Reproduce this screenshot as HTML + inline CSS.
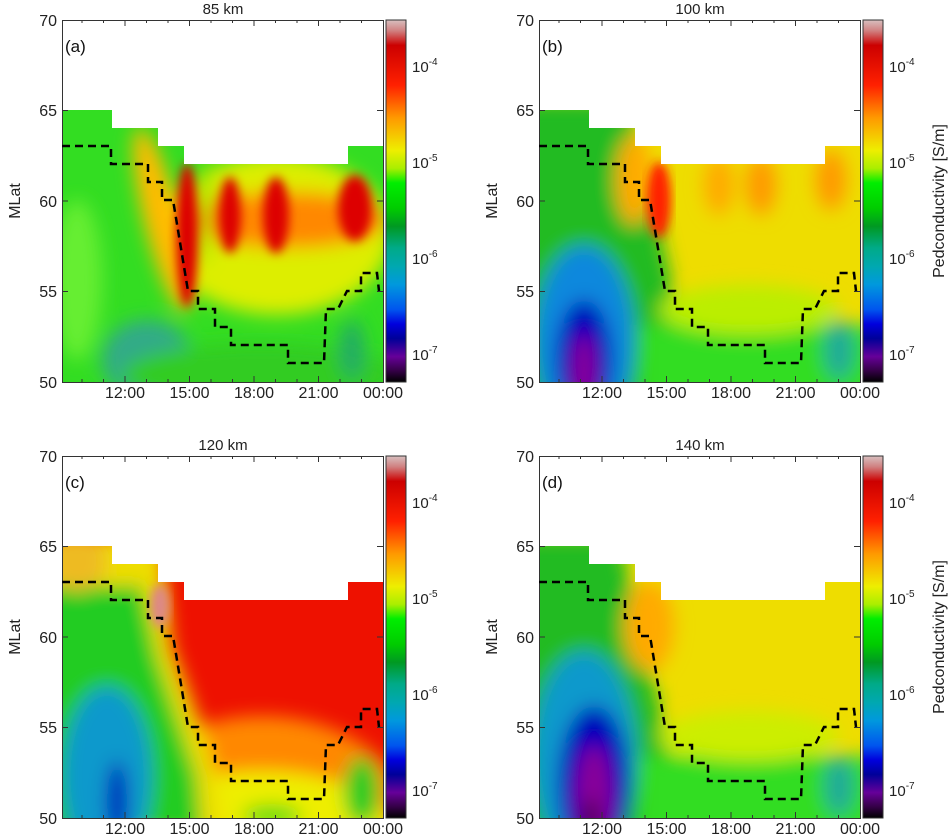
<!DOCTYPE html>
<html><head><meta charset="utf-8"><style>
html,body{margin:0;background:#fff;overflow:hidden;width:950px;height:838px}
svg{display:block;font-family:"Liberation Sans","DejaVu Sans",sans-serif}
</style></head><body>
<svg width="950" height="838" viewBox="0 0 950 838">
<defs>
<linearGradient id="cb" x1="0" y1="0" x2="0" y2="1">
<stop offset="0" stop-color="#d8c0c0"/><stop offset="0.03" stop-color="#d08080"/>
<stop offset="0.07" stop-color="#cc0000"/><stop offset="0.18" stop-color="#ff2000"/>
<stop offset="0.27" stop-color="#ff9900"/><stop offset="0.36" stop-color="#eeee00"/>
<stop offset="0.41" stop-color="#aaee00"/><stop offset="0.45" stop-color="#00ee00"/>
<stop offset="0.52" stop-color="#00cc00"/><stop offset="0.57" stop-color="#009922"/>
<stop offset="0.63" stop-color="#00aa88"/><stop offset="0.68" stop-color="#00a8b0"/>
<stop offset="0.73" stop-color="#0099dd"/><stop offset="0.8" stop-color="#0055ee"/>
<stop offset="0.84" stop-color="#0000dd"/><stop offset="0.88" stop-color="#000099"/>
<stop offset="0.93" stop-color="#660099"/><stop offset="0.97" stop-color="#330044"/>
<stop offset="1" stop-color="#000000"/>
</linearGradient>
<filter id="bl" x="-20%" y="-20%" width="140%" height="140%"><feGaussianBlur stdDeviation="9"/></filter>
<filter id="bs" x="-20%" y="-20%" width="140%" height="140%"><feGaussianBlur stdDeviation="5"/></filter>
<clipPath id="cov"><polygon points="0,362 0,90 50,90 50,108 96,108 96,126 122,126 122,144 286,144 286,126 321,126 321,362"/></clipPath>
<g id="frame">
<rect x="0.5" y="0.5" width="321" height="362" fill="none" stroke="#333" stroke-width="1"/>
<path d="M63,362v-6M127.5,362v-6M192,362v-6M256.5,362v-6M63,0v6M127.5,0v6M192,0v6M256.5,0v6M20,362v-3M41.5,362v-3M84.5,362v-3M106,362v-3M149,362v-3M170.5,362v-3M213.5,362v-3M235,362v-3M278,362v-3M299.5,362v-3M20,0v3M41.5,0v3M84.5,0v3M106,0v3M149,0v3M170.5,0v3M213.5,0v3M235,0v3M278,0v3M299.5,0v3M0,90.5h6M0,181h6M0,271.5h6M321,90.5h-6M321,181h-6M321,271.5h-6" stroke="#333" stroke-width="1"/>
<polyline points="0,126 49,126 49,144 86,144 86,162 100,162 100,180 111,180 114,198 126,271 136,271 136,289 153,289 153,307 169,307 169,325 226,325 226,343 262,343 264,289 276,289 285,271 299,271 299,253 315,253 317,271" fill="none" stroke="#000" stroke-width="2.5" stroke-dasharray="8,5"/>
<rect x="324" y="0" width="20" height="362" fill="url(#cb)" stroke="#333" stroke-width="1"/>
<g font-size="16" fill="#222">
<text x="-5" y="6" text-anchor="end">70</text><text x="-5" y="96" text-anchor="end">65</text>
<text x="-5" y="187" text-anchor="end">60</text><text x="-5" y="277" text-anchor="end">55</text>
<text x="-5" y="368" text-anchor="end">50</text>
<text x="63" y="378" text-anchor="middle">12:00</text><text x="127.5" y="378" text-anchor="middle">15:00</text>
<text x="192" y="378" text-anchor="middle">18:00</text><text x="256.5" y="378" text-anchor="middle">21:00</text>
<text x="321" y="378" text-anchor="middle">00:00</text>
</g>
<g font-size="15" fill="#222">
<text x="350" y="52">10<tspan font-size="10" dy="-7">-4</tspan></text>
<text x="350" y="148">10<tspan font-size="10" dy="-7">-5</tspan></text>
<text x="350" y="244">10<tspan font-size="10" dy="-7">-6</tspan></text>
<text x="350" y="340">10<tspan font-size="10" dy="-7">-7</tspan></text>
</g>
</g>
</defs>

<!-- Panel a -->
<g transform="translate(62,20)">
<g clip-path="url(#cov)"><rect width="321" height="362" fill="#33dd22"/>
<g filter="url(#bl)">
<ellipse cx="15" cy="260" rx="25" ry="80" fill="#66ee33"/>
<ellipse cx="85" cy="340" rx="45" ry="40" fill="#33aa88"/>
<ellipse cx="215" cy="215" rx="115" ry="80" fill="#ddee00"/>
<ellipse cx="100" cy="200" rx="18" ry="95" fill="#ffbb00" transform="rotate(-14 100 200)"/>
<ellipse cx="225" cy="200" rx="100" ry="28" fill="#ff8800"/>
<ellipse cx="143" cy="190" rx="5" ry="55" fill="#88dd00"/>
<ellipse cx="200" cy="355" rx="140" ry="32" fill="#33cc22"/>
<ellipse cx="290" cy="330" rx="12" ry="30" fill="#22aa66"/>
</g>
<g filter="url(#bs)">
<ellipse cx="125" cy="215" rx="11" ry="72" fill="#dd0000"/>
<ellipse cx="168" cy="195" rx="11" ry="38" fill="#dd0000"/>
<ellipse cx="214" cy="195" rx="13" ry="38" fill="#dd0000"/>
<ellipse cx="293" cy="188" rx="17" ry="33" fill="#dd0000"/>
</g></g>
<use href="#frame"/>
<text x="3" y="32" font-size="17" fill="#111">(a)</text>
<text x="161" y="-6" font-size="15" text-anchor="middle" fill="#222">85 km</text>
<text transform="translate(-42,181) rotate(-90)" font-size="16" text-anchor="middle" fill="#222">MLat</text>
</g>

<!-- Panel b -->
<g transform="translate(539,20)">
<g clip-path="url(#cov)"><rect width="321" height="362" fill="#eedd00"/>
<g filter="url(#bl)">
<polygon points="-20,80 90,80 130,250 150,380 -20,380" fill="#22bb22"/>
<ellipse cx="45" cy="320" rx="50" ry="95" fill="#1188dd"/>
<ellipse cx="45" cy="340" rx="28" ry="60" fill="#0000bb"/>
<ellipse cx="45" cy="355" rx="12" ry="40" fill="#880099"/>
<rect x="100" y="305" width="240" height="80" fill="#33dd22"/>
<ellipse cx="210" cy="290" rx="90" ry="25" fill="#bbee00"/>
<ellipse cx="95" cy="160" rx="18" ry="45" fill="#ffaa00"/>
<ellipse cx="180" cy="165" rx="15" ry="30" fill="#ffaa00"/>
<ellipse cx="222" cy="165" rx="15" ry="30" fill="#ff9900"/>
<ellipse cx="292" cy="160" rx="15" ry="30" fill="#ff9900"/>
<ellipse cx="300" cy="330" rx="15" ry="30" fill="#22aa99"/>
</g>
<g filter="url(#bs)"><ellipse cx="120" cy="180" rx="12" ry="38" fill="#ff2200"/></g></g>
<use href="#frame"/>
<text x="3" y="32" font-size="17" fill="#111">(b)</text>
<text x="161" y="-6" font-size="15" text-anchor="middle" fill="#222">100 km</text>
<text transform="translate(-42,181) rotate(-90)" font-size="16" text-anchor="middle" fill="#222">MLat</text>
<text transform="translate(405,181) rotate(-90)" font-size="16" text-anchor="middle" fill="#222">Pedconductivity [S/m]</text>
</g>

<!-- Panel c -->
<g transform="translate(62,456)">
<g clip-path="url(#cov)"><rect width="321" height="362" fill="#ee1100"/>
<g filter="url(#bl)">
<ellipse cx="200" cy="370" rx="150" ry="110" fill="#ff8800"/>
<ellipse cx="200" cy="375" rx="130" ry="60" fill="#eeee00"/>
<polygon points="-20,80 100,80 110,190 150,300 160,380 -20,380" fill="#eedd00"/>
<polygon points="-20,130 80,130 95,200 135,320 140,380 -20,380" fill="#22cc22"/>
<ellipse cx="15" cy="105" rx="30" ry="30" fill="#eebb22"/>
<ellipse cx="45" cy="320" rx="45" ry="90" fill="#1199cc"/>
<ellipse cx="55" cy="345" rx="10" ry="40" fill="#0000bb"/>
<ellipse cx="300" cy="335" rx="18" ry="35" fill="#22cc22"/>
<ellipse cx="210" cy="360" rx="30" ry="12" fill="#66dd11"/>
</g>
<g filter="url(#bs)"><ellipse cx="98" cy="150" rx="10" ry="22" fill="#dd8888"/></g></g>
<use href="#frame"/>
<text x="3" y="32" font-size="17" fill="#111">(c)</text>
<text x="161" y="-6" font-size="15" text-anchor="middle" fill="#222">120 km</text>
<text transform="translate(-42,181) rotate(-90)" font-size="16" text-anchor="middle" fill="#222">MLat</text>
</g>

<!-- Panel d -->
<g transform="translate(539,456)">
<g clip-path="url(#cov)"><rect width="321" height="362" fill="#eedd00"/>
<g filter="url(#bl)">
<polygon points="-20,80 80,80 120,250 145,380 -20,380" fill="#22bb22"/>
<ellipse cx="45" cy="300" rx="52" ry="105" fill="#1199cc"/>
<ellipse cx="55" cy="330" rx="36" ry="80" fill="#0000bb"/>
<ellipse cx="55" cy="345" rx="18" ry="55" fill="#880099"/>
<ellipse cx="52" cy="362" rx="6" ry="20" fill="#220022"/>
<rect x="100" y="300" width="240" height="80" fill="#33dd22"/>
<ellipse cx="210" cy="280" rx="90" ry="25" fill="#ccee00"/>
<ellipse cx="110" cy="170" rx="25" ry="45" fill="#ffaa00"/>
<ellipse cx="300" cy="330" rx="15" ry="30" fill="#22aa99"/>
</g></g>
<use href="#frame"/>
<text x="3" y="32" font-size="17" fill="#111">(d)</text>
<text x="161" y="-6" font-size="15" text-anchor="middle" fill="#222">140 km</text>
<text transform="translate(-42,181) rotate(-90)" font-size="16" text-anchor="middle" fill="#222">MLat</text>
<text transform="translate(405,181) rotate(-90)" font-size="16" text-anchor="middle" fill="#222">Pedconductivity [S/m]</text>
</g>
</svg>
</body></html>
